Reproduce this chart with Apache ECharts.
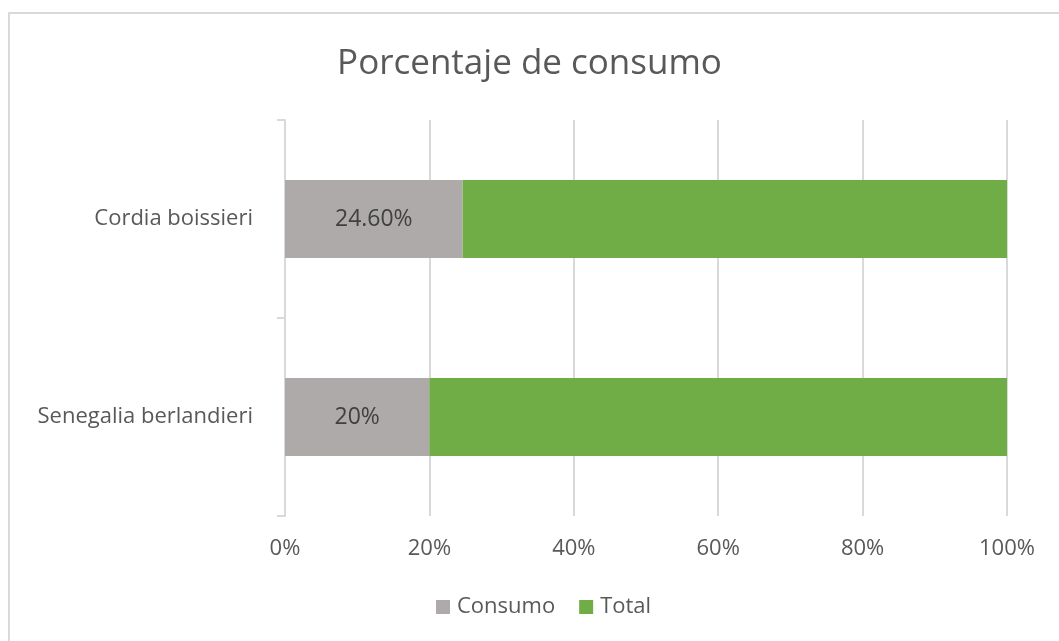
<!DOCTYPE html>
<html>
<head>
<meta charset="utf-8">
<style>
  html, body { margin: 0; padding: 0; background: #ffffff; }
  #chart { width: 1059px; height: 641px; }
</style>
<script src="https://cdn.jsdelivr.net/npm/echarts@6/dist/echarts.min.js"></script>
</head>
<body>
<div id="chart"></div>
<script>
// Species shown on the vertical axis (top to bottom)
const categories = ['Cordia boissieri', 'Senegalia berlandieri'];
// Share consumed, in percent
const consumo = [24.6, 20];
// Remaining share up to the total, in percent
const total = [75.4, 80];
// Value-axis tick labels
const tickLabels = ['0%', '20%', '40%', '60%', '80%', '100%'];
// Text shown inside the consumed segment
const consumoLabels = ['24.60%', '20%'];

const font = '"Open Sans", "Noto Sans", sans-serif';
const chart = echarts.init(document.getElementById('chart'));

chart.setOption({
  animation: false,
  backgroundColor: '#ffffff',
  title: {
    text: 'Porcentaje de consumo',
    left: 'center',
    top: 42,
    textStyle: { fontFamily: font, fontSize: 35, fontWeight: 'normal', color: '#595959' }
  },
  graphic: [{
    type: 'rect',
    shape: { x: 9, y: 13, width: 1100, height: 700 },
    style: { fill: 'none', stroke: '#d9d9d9', lineWidth: 2 },
    silent: true
  }],
  legend: {
    bottom: 18,
    left: 431,
    itemWidth: 14,
    itemHeight: 14,
    itemGap: 24,
    icon: 'rect',
    textStyle: { fontFamily: font, fontSize: 22, color: '#595959', padding: [0, 0, 0, 2] },
    data: ['Consumo', 'Total']
  },
  grid: { left: 285, right: 52, top: 120, bottom: 125, containLabel: false },
  xAxis: {
    type: 'value',
    min: 0,
    max: 100,
    interval: 20,
    axisLine: { show: false },
    axisTick: { show: false },
    splitLine: { lineStyle: { color: '#d9d9d9', width: 2 } },
    axisLabel: {
      margin: 22,
      fontFamily: font,
      fontSize: 22,
      color: '#595959',
      formatter: (v) => tickLabels[Math.round(v / 20)]
    }
  },
  yAxis: {
    type: 'category',
    inverse: true,
    data: categories,
    axisLine: { lineStyle: { color: '#d9d9d9', width: 2 } },
    axisTick: { show: true, length: 8, lineStyle: { color: '#d9d9d9', width: 2 } },
    axisLabel: { margin: 32, fontFamily: font, fontSize: 22, color: '#595959' }
  },
  series: [
    {
      name: 'Consumo',
      type: 'bar',
      stack: 'pct',
      barCategoryGap: '60.6%',
      data: consumo,
      itemStyle: { color: '#aeaaaa' },
      label: {
        show: true,
        position: 'inside',
        fontFamily: font,
        fontSize: 23,
        color: '#404040',
        formatter: (p) => consumoLabels[p.dataIndex]
      }
    },
    {
      name: 'Total',
      type: 'bar',
      stack: 'pct',
      data: total,
      itemStyle: { color: '#70ad47' }
    }
  ]
});
</script>
</body>
</html>
